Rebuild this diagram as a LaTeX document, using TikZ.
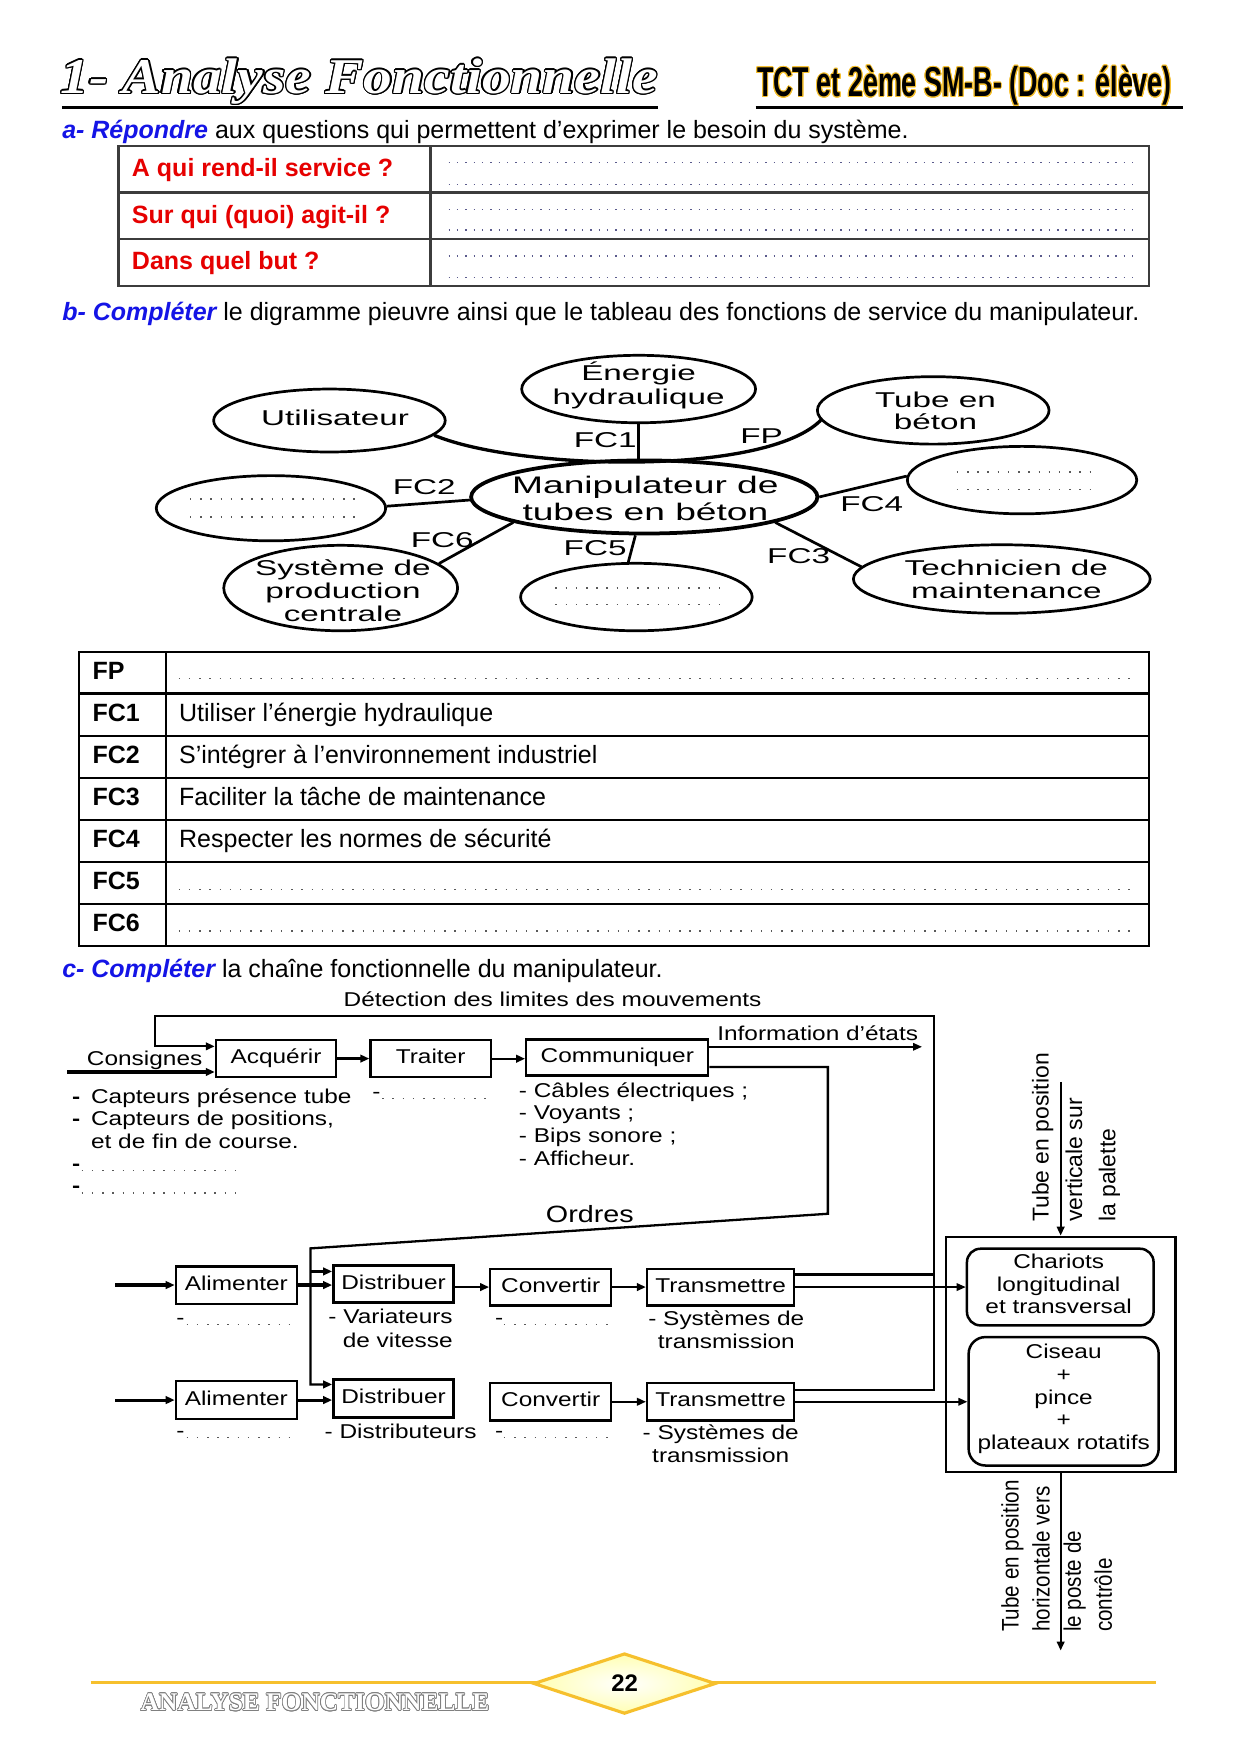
\documentclass[tikz,border=0pt]{standalone}
\usepackage{fontspec}
\setmainfont{Liberation Sans}
\newfontfamily\octofont[FakeStretch=1.55]{Liberation Sans}
\newfontfamily\chainfont[FakeStretch=1.22]{Liberation Sans}
\newfontfamily\vfont[FakeStretch=0.86]{Liberation Sans}
\newfontfamily\subfont[FakeStretch=0.645]{Liberation Sans}
\newfontfamily\titlefont[FakeStretch=1.15]{Liberation Serif}
\newfontfamily\footfont{Liberation Serif}
\usepackage[copies]{contour}
\usetikzlibrary{arrows.meta,shapes.geometric}
\definecolor{qblue}{RGB}{20,20,230}
\definecolor{qred}{RGB}{230,0,0}
\definecolor{gold}{RGB}{246,192,45}
\definecolor{dotc}{RGB}{90,90,140}
\definecolor{tline}{RGB}{60,60,60}
\newcommand{\pxu}{0.5396pt}
\newcommand{\mytab}[2]{\begin{tabular}[t]{@{}#1@{}}#2\end{tabular}}
\begin{document}
\begin{tikzpicture}[x=0.5396pt,y=-0.5396pt,
 every node/.style={inner sep=0pt},
 txt/.style={font=\fontsize{12}{14}\selectfont, anchor=base west},
 redq/.style={font=\bfseries\fontsize{12}{14}\selectfont, text=qred, anchor=base west},
 lab/.style={font=\bfseries\fontsize{12}{14}\selectfont, anchor=base west},
 dotsa/.style={dotc, line width=0.7pt, dash pattern=on 0.7pt off 3.3pt},
 dotsb/.style={black!65, line width=0.7pt, dash pattern=on 0.7pt off 4.2pt},
 ell/.style 2 args={ellipse, draw, line width=1.3pt, minimum width=#1*\pxu, minimum height=#2*\pxu},
 octo/.style 2 args={font=\octofont\fontsize{#1}{#2}\selectfont, anchor=base},
 fcl/.style={font=\octofont\fontsize{10.3}{12}\selectfont, anchor=base west},
 octline/.style={line width=1.3pt},
 ctxt/.style={font=\chainfont\fontsize{9.6}{10.9}\selectfont, anchor=base west},
 cbox/.style 2 args={draw, line width=1.1pt, minimum width=#1*\pxu, minimum height=#2*\pxu, font=\chainfont\fontsize{9.6}{10.9}\selectfont, text height=6.9pt, text depth=2pt},
 arr/.style={-{Triangle[length=4.3pt,width=3.6pt]}},
 lwthick/.style={line width=1.5pt},
 lwmid/.style={line width=1.1pt},
 lwthin/.style={line width=0.8pt}
]
\fill[white] (0,0) rectangle (1103,1560);
\useasboundingbox (0,0) rectangle (1103,1560);

% ---------- header ----------
\node[anchor=base west, font=\titlefont\bfseries\itshape\fontsize{24}{28}\selectfont] (title) at (53.4,83)
  {\contourlength{0.65pt}\color{white}\contour{black}{1- Analyse Fonctionnelle}};
\draw[line width=1.6pt] (55,95.5) -- (585,95.5);
\node[anchor=base west, font=\subfont\bfseries\fontsize{20}{24}\selectfont] (sub) at (673,86)
  {\contourlength{0.45pt}\contour{gold}{TCT et 2ème SM-B- (Doc : élève)}};
\draw[line width=1.6pt] (672,95.5) -- (1052,95.5);

% ---------- section a ----------
\node[txt] (qa) at (55,123) {\textcolor{qblue}{\bfseries\itshape a- Répondre} aux questions qui permettent d’exprimer le besoin du système.};
\draw[tline, line width=1.1pt] (105.3,129.6) rectangle (1022,254.2);
\draw[tline, line width=1.1pt] (105.3,171.1) -- (1022,171.1) (105.3,212.6) -- (1022,212.6) (383,129.6) -- (383,254.2);
\node[redq] (q1) at (117,157) {A qui rend-il service ?};
\node[redq] (q2) at (117,198.7) {Sur qui (quoi) agit-il ?};
\node[redq] (q3) at (117,240) {Dans quel but ?};
\foreach \yy in {144.7,164,186.2,204.6,227.8,246.7} \draw[dotsa] (399,\yy) -- (1008,\yy);

% ---------- section b ----------
\node[txt] (qb) at (55,284.7) {\textcolor{qblue}{\bfseries\itshape b- Compléter} le digramme pieuvre ainsi que le tableau des fonctions de service du manipulateur.};

\node[ell={208}{60}] (ener) at (568,346) {};
\node[ell={206}{56}] (util) at (293,374) {};
\node[ell={206}{60}] (tube) at (830,365) {};
\node[ell={308}{65}, line width=1.8pt] (cen) at (573,442) {};
\node[ell={204}{58}] (dleft) at (241,452) {};
\node[ell={204}{60}] (dright) at (909,427) {};
\node[ell={208}{76}] (sys) at (303,523) {};
\node[ell={206}{60}] (dbot) at (566,531) {};
\node[ell={264}{61}] (tech) at (891,515) {};

\draw[octline] (ener.south) -- (ener.south |- cen.north);
\draw[octline] (dleft.1) -- (cen.181);
\draw[octline] (cen.0) -- (dright.178);
\draw[octline] (cen.191) -- (sys.14);
\draw[octline] (cen.257) -- (dbot.103);
\draw[octline] (cen.349) -- (tech.175);
\draw[line width=1.6pt] (util.352) .. controls (460,418) and (680,424) .. (tube.185);

\node[octo={10.3}{11.9}] (tener) at (568,338) {\mytab{c}{Énergie\\hydraulique}};
\node[octo={10.3}{12}] (tutil) at (298,378) {Utilisateur};
\node[octo={10.3}{10.8}] (ttube) at (832,362) {\mytab{c}{Tube en\\béton}};
\node[octo={11.5}{12.95}] (tcen) at (574,438.5) {\mytab{c}{Manipulateur de\\tubes en béton}};
\node[octo={10.3}{11.06}] (tsys) at (305,512) {\mytab{c}{Système de\\production\\centrale}};
\node[octo={10.3}{11.06}] (ttech) at (895,512) {\mytab{c}{Technicien de\\maintenance}};

\draw[dotsb] (169,444) -- (320,444);
\draw[dotsb] (169,459.7) -- (320,459.7);
\draw[dotsb] (851,419.6) -- (970,419.6);
\draw[dotsb] (851,435.3) -- (970,435.3);
\draw[dotsb] (494,522.8) -- (645,522.8);
\draw[dotsb] (494,537.4) -- (645,537.4);

\node[fcl] (lfc1) at (510,398) {FC1};
\node[fcl] (lfp) at (658,394) {FP};
\node[fcl] (lfc2) at (349,440) {FC2};
\node[fcl] (lfc4) at (747,455) {FC4};
\node[fcl] (lfc6) at (365,487) {FC6};
\node[fcl] (lfc5) at (501,494) {FC5};
\node[fcl] (lfc3) at (682,501) {FC3};

% ---------- functions table ----------
\draw[line width=1pt] (70,579.8) rectangle (1022,841);
\foreach \yy in {616.8,654.5,691.6,728.9,766.3,803.7} \draw[line width=1pt] (70,\yy) -- (1022,\yy);
\draw[line width=1pt] (148,579.8) -- (148,841);
\node[lab] (fp) at (82,604.3) {FP};
\node[lab] (fc1) at (82,641.3) {FC1};
\node[lab] (fc2) at (82,679) {FC2};
\node[lab] (fc3) at (82,716.1) {FC3};
\node[lab] (fc4) at (82,753.4) {FC4};
\node[lab] (fc5) at (82,790.8) {FC5};
\node[lab] (fc6) at (82,828.2) {FC6};
\node[txt] (t1) at (159,641.3) {Utiliser l’énergie hydraulique};
\node[txt] (t2) at (159,679) {S’intégrer à l’environnement industriel};
\node[txt] (t3) at (159,716.1) {Faciliter la tâche de maintenance};
\node[txt] (t4) at (159,753.4) {Respecter les normes de sécurité};
\foreach \yy in {603.5,791,828} \draw[dotsb] (159,\yy) -- (1008,\yy);

% ---------- section c ----------
\node[txt] (qc) at (55,869) {\textcolor{qblue}{\bfseries\itshape c- Compléter} la chaîne fonctionnelle du manipulateur.};

\node[ctxt] (det) at (305.3,895.6) {Détection des limites des mouvements};
\node[ctxt] (cons) at (77,947.5) {Consignes};
\node[ctxt] (info) at (637.6,925) {Information d’états};
\node[ctxt, font=\chainfont\fontsize{11.3}{13}\selectfont] (ord) at (485.2,1087) {Ordres};

\node[cbox={107}{33}] (acq) at (245.5,941.5) {Acquérir};
\node[cbox={107}{33}] (trai) at (383,941.6) {Traiter};
\node[cbox={162}{32}] (comm) at (549,940.5) {Communiquer};

\node[cbox={107.6}{33.2}] (alim1) at (210.2,1142.9) {Alimenter};
\node[cbox={106.6}{33.2}, line width=1.4pt] (dist1) at (350,1142) {Distribuer};
\node[cbox={107.6}{32.6}] (conv1) at (489.8,1144.7) {Convertir};
\node[cbox={130.9}{32.6}] (trans1) at (640.9,1144.7) {Transmettre};
\node[cbox={107.6}{33.5}] (alim2) at (210.2,1245.2) {Alimenter};
\node[cbox={106.6}{33.5}, line width=1.4pt] (dist2) at (350,1243.7) {Distribuer};
\node[cbox={107.6}{33.2}] (conv2) at (489.8,1246.7) {Convertir};
\node[cbox={130.9}{33.2}] (trans2) at (640.9,1246.7) {Transmettre};

\node[draw, line width=1.3pt, minimum width=204.1*\pxu, minimum height=209.1*\pxu] (outer) at (943.35,1204.75) {};
\node[draw, line width=1.2pt, rounded corners=6.5pt, minimum width=166*\pxu, minimum height=68.2*\pxu] (char) at (943,1144.7) {};
\node[draw, line width=1.2pt, rounded corners=8pt, minimum width=169*\pxu, minimum height=114.2*\pxu] (cis) at (946,1246.3) {};
\node[ctxt, anchor=base, font=\chainfont\fontsize{9.6}{10.8}\selectfont] (tchar) at (941.6,1128.4) {\mytab{c}{Chariots\\longitudinal\\et transversal}};
\node[ctxt, anchor=base, font=\chainfont\fontsize{9.6}{10.9}\selectfont] (tcis) at (946,1208.5) {\mytab{c}{Ciseau\\+\\pince\\+\\plateaux rotatifs}};

% coordinates
\coordinate (cin) at (59.8,953.4);
\coordinate (lpR) at (830.5,903.6);
\coordinate (lpL) at (138,903.6);
\coordinate (lpD) at (138,930.6);
\coordinate (j2) at (830.5,1236.1);
\coordinate (j1) at (830.5,1133.5);
\coordinate (infoend) at (820,931);
\coordinate (o1) at (736.3,949);
\coordinate (o2) at (736.3,1079.5);
\coordinate (o3) at (276.2,1110.3);
\coordinate (o4) at (276.2,1231.3);
\coordinate (o5) at (276.2,1130.8);
\coordinate (in1) at (102.7,1142.9);
\coordinate (in2) at (102.7,1245.2);
\coordinate (tin) at (943.35,962.3);
\coordinate (tout) at (943.35,1468);

% connectors
\draw[lwthick,arr] (cin) -- (cin -| acq.west);
\draw[lwmid,arr] (acq.east) -- (acq.east -| trai.west);
\draw[lwmid,arr] (trai.east) -- (trai.east -| comm.west);
\draw[lwthin,arr] (comm.east |- infoend) -- (infoend);
\draw[lwmid,arr] (trans2.east |- j2) -- (j2) -- (lpR) -- (lpL) -- (lpD) -- (lpD -| acq.west);
\draw[lwthick] (trans1.east |- j1) -- (j1);
\draw[lwmid,arr] (comm.east |- o1) -- (o1) -- (o2) -- (o3) -- (o4) -- (o4 -| dist2.west);
\draw[lwmid,arr] (o5) -- (o5 -| dist1.west);

\draw[lwthick,arr] (in1) -- (alim1.west);
\draw[lwthick,arr] (alim1.east) -- (alim1.east -| dist1.west);
\draw[lwmid,arr] (dist1.east |- conv1.west) -- (conv1.west);
\draw[lwmid,arr] (conv1.east) -- (trans1.west);
\draw[lwthin,arr] (trans1.east) -- (trans1.east -| char.west);

\draw[lwthick,arr] (in2) -- (alim2.west);
\draw[lwthick,arr] (alim2.east) -- (alim2.east -| dist2.west);
\draw[lwmid,arr] (conv2.east) -- (trans2.west);
\draw[lwthin,arr] (trans2.east) -- (trans2.east -| cis.west);

\draw[lwmid,arr] (tin) -- (outer.north);
\draw[lwmid,arr] (outer.south) -- (tout);

% labels under blocks
\node[ctxt] (acqlist) at (63.8,981) {\mytab{l@{\hspace{5.2pt}}l}{\textbf{-}&Capteurs présence tube\\\textbf{-}&Capteurs de positions,\\&et de fin de course.}};
\node[ctxt] (dl1) at (63.8,1041) {\textbf{-}};
\draw[dotsb] (72.7,1041) -- (216,1041);
\node[ctxt] (dl2) at (63.8,1061) {\textbf{-}};
\draw[dotsb] (72.7,1061) -- (216,1061);
\node[ctxt] (dt) at (330.8,977) {-};
\draw[dotsb] (340,977) -- (433,977);
\node[ctxt, font=\chainfont\fontsize{9.6}{10.95}\selectfont] (clist) at (461.2,975.7) {\mytab{l}{- Câbles électriques ;\\- Voyants ;\\- Bips sonore ;\\- Afficheur.}};

\node[ctxt] (d1a) at (156.4,1178) {-};
\draw[dotsb] (166,1178) -- (258,1178);
\node[ctxt, anchor=base east, font=\chainfont\fontsize{9.6}{11.2}\selectfont] (var) at (403,1177.3) {\mytab{r}{- Variateurs\\de vitesse}};
\node[ctxt] (d1c) at (440,1178) {-};
\draw[dotsb] (448.2,1178) -- (543.6,1178);
\node[ctxt, anchor=base, font=\chainfont\fontsize{9.6}{11.2}\selectfont] (st1) at (646,1178.8) {\mytab{c}{- Systèmes de\\transmission}};

\node[ctxt] (d2a) at (156.4,1278.7) {-};
\draw[dotsb] (166,1278.7) -- (258,1278.7);
\node[ctxt] (distr) at (288.4,1279.7) {- Distributeurs};
\node[ctxt] (d2c) at (440,1278.7) {-};
\draw[dotsb] (448.2,1278.7) -- (543.6,1278.7);
\node[ctxt, anchor=base, font=\chainfont\fontsize{9.6}{10.8}\selectfont] (st2) at (641,1280.5) {\mytab{c}{- Systèmes de\\transmission}};

\node[rotate=90, anchor=base west, font=\fontsize{11}{16}\selectfont] (vin) at (932.7,1087) {\mytab{l}{Tube en position\\verticale sur\\la palette}};
\node[rotate=90, anchor=base west, font=\vfont\fontsize{11.5}{14.9}\selectfont] (vout) at (906,1451.7) {\mytab{l}{Tube en position\\horizontale vers\\le poste de\\contrôle}};

% ---------- footer ----------
\draw[gold, line width=1.5pt] (80.6,1496.7) -- (1028,1496.7);
\coordinate (dw) at (475,1497.3);
\coordinate (dn) at (555.4,1471);
\coordinate (de) at (636,1497.3);
\coordinate (ds) at (555.4,1523.7);
\shadedraw[draw=gold, line width=1.5pt, inner color=white, outer color=yellow!30] (dw) -- (dn) -- (de) -- (ds) -- cycle;
\node[font=\bfseries\fontsize{11.5}{13}\selectfont] (pg) at (555.6,1497) {22};
\node[anchor=base west, font=\footfont\bfseries\fontsize{12.2}{14}\selectfont] (ft) at (124.8,1521.4)
  {\contourlength{0.35pt}\color{white}\contour{gray}{ANALYSE FONCTIONNELLE}};
\end{tikzpicture}
\end{document}
